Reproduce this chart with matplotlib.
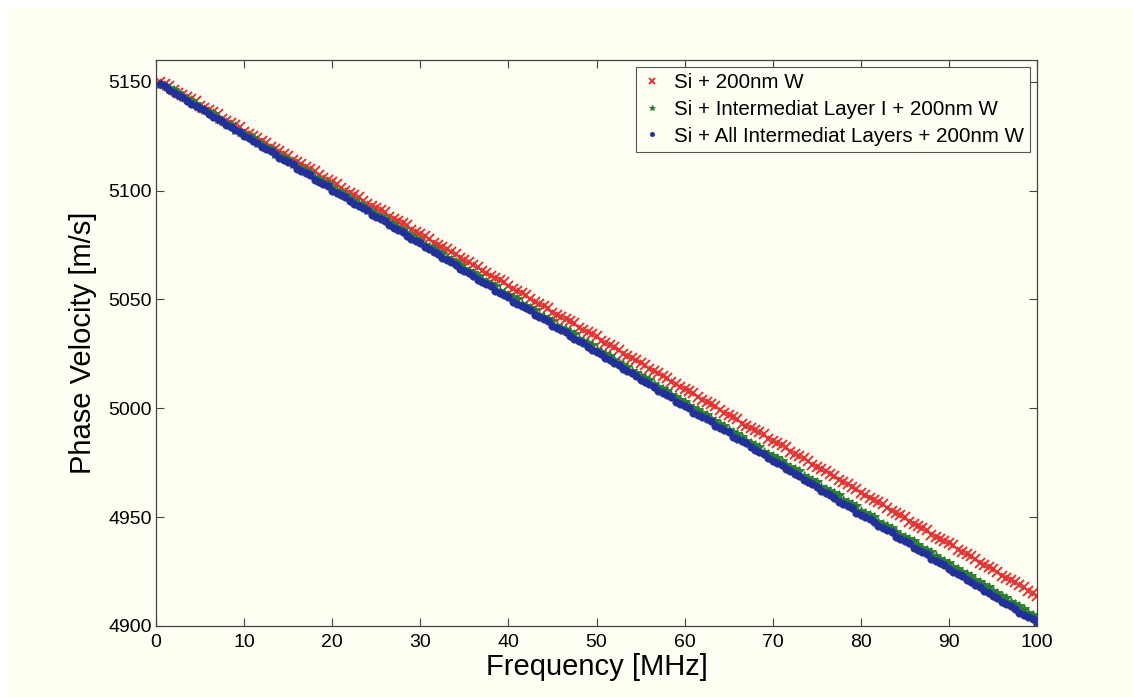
import numpy as np
import matplotlib
matplotlib.use('Agg')
import matplotlib.pyplot as plt
from matplotlib.patches import Rectangle

plt.rcParams['font.family'] = ['Liberation Sans', 'DejaVu Sans']

# frequency grid, 0.5 MHz steps
freq = np.arange(1, 201) * 0.5

# phase velocity [m/s]
v_w = [5150, 5149, 5148, 5146, 5145, 5144, 5143, 5142, 5141, 5139,
       5138, 5137, 5136, 5135, 5133, 5132, 5131, 5130, 5129, 5127,
       5126, 5125, 5124, 5123, 5122, 5120, 5119, 5118, 5117, 5116,
       5114, 5113, 5112, 5111, 5110, 5109, 5107, 5106, 5105, 5104,
       5103, 5101, 5100, 5099, 5098, 5097, 5095, 5094, 5093, 5092,
       5091, 5090, 5088, 5087, 5086, 5085, 5084, 5082, 5081, 5080,
       5079, 5078, 5076, 5075, 5074, 5073, 5072, 5071, 5069, 5068,
       5067, 5066, 5065, 5063, 5062, 5061, 5060, 5059, 5058, 5056,
       5055, 5054, 5053, 5052, 5050, 5049, 5048, 5047, 5046, 5044,
       5043, 5042, 5041, 5040, 5039, 5037, 5036, 5035, 5034, 5033,
       5031, 5030, 5029, 5028, 5027, 5025, 5024, 5023, 5022, 5021,
       5020, 5018, 5017, 5016, 5015, 5014, 5012, 5011, 5010, 5009,
       5008, 5007, 5005, 5004, 5003, 5002, 5001, 4999, 4998, 4997,
       4996, 4995, 4993, 4992, 4991, 4990, 4989, 4988, 4986, 4985,
       4984, 4983, 4982, 4980, 4979, 4978, 4977, 4976, 4974, 4973,
       4972, 4971, 4970, 4969, 4967, 4966, 4965, 4964, 4963, 4961,
       4960, 4959, 4958, 4957, 4956, 4954, 4953, 4952, 4951, 4950,
       4948, 4947, 4946, 4945, 4944, 4942, 4941, 4940, 4939, 4938,
       4937, 4935, 4934, 4933, 4932, 4931, 4929, 4928, 4927, 4926,
       4925, 4923, 4922, 4921, 4920, 4919, 4918, 4916, 4915, 4914]

v_layer1 = [5149, 5148, 5147, 5146, 5145, 5143, 5142, 5141, 5140, 5138,
            5137, 5136, 5135, 5133, 5132, 5131, 5130, 5128, 5127, 5126,
            5125, 5124, 5122, 5121, 5120, 5119, 5117, 5116, 5115, 5114,
            5112, 5111, 5110, 5109, 5108, 5106, 5105, 5104, 5103, 5101,
            5100, 5099, 5098, 5096, 5095, 5094, 5093, 5091, 5090, 5089,
            5088, 5087, 5085, 5084, 5083, 5082, 5080, 5079, 5078, 5077,
            5075, 5074, 5073, 5072, 5071, 5069, 5068, 5067, 5066, 5064,
            5063, 5062, 5061, 5059, 5058, 5057, 5056, 5054, 5053, 5052,
            5051, 5050, 5048, 5047, 5046, 5045, 5043, 5042, 5041, 5040,
            5038, 5037, 5036, 5035, 5034, 5032, 5031, 5030, 5029, 5027,
            5026, 5025, 5024, 5022, 5021, 5020, 5019, 5017, 5016, 5015,
            5014, 5013, 5011, 5010, 5009, 5008, 5006, 5005, 5004, 5003,
            5001, 5000, 4999, 4998, 4997, 4995, 4994, 4993, 4992, 4990,
            4989, 4988, 4987, 4985, 4984, 4983, 4982, 4980, 4979, 4978,
            4977, 4976, 4974, 4973, 4972, 4971, 4969, 4968, 4967, 4966,
            4964, 4963, 4962, 4961, 4960, 4958, 4957, 4956, 4955, 4953,
            4952, 4951, 4950, 4948, 4947, 4946, 4945, 4943, 4942, 4941,
            4940, 4939, 4937, 4936, 4935, 4934, 4932, 4931, 4930, 4929,
            4927, 4926, 4925, 4924, 4923, 4921, 4920, 4919, 4918, 4916,
            4915, 4914, 4913, 4911, 4910, 4909, 4908, 4906, 4905, 4904]

v_all = [5149, 5148, 5146, 5145, 5144, 5143, 5141, 5140, 5139, 5138,
         5137, 5135, 5134, 5133, 5132, 5130, 5129, 5128, 5127, 5125,
         5124, 5123, 5122, 5120, 5119, 5118, 5117, 5115, 5114, 5113,
         5112, 5110, 5109, 5108, 5107, 5105, 5104, 5103, 5102, 5100,
         5099, 5098, 5097, 5095, 5094, 5093, 5092, 5091, 5089, 5088,
         5087, 5086, 5084, 5083, 5082, 5081, 5079, 5078, 5077, 5076,
         5074, 5073, 5072, 5071, 5069, 5068, 5067, 5066, 5064, 5063,
         5062, 5061, 5059, 5058, 5057, 5056, 5054, 5053, 5052, 5051,
         5049, 5048, 5047, 5046, 5045, 5043, 5042, 5041, 5040, 5038,
         5037, 5036, 5035, 5033, 5032, 5031, 5030, 5028, 5027, 5026,
         5025, 5023, 5022, 5021, 5020, 5018, 5017, 5016, 5015, 5013,
         5012, 5011, 5010, 5008, 5007, 5006, 5005, 5003, 5002, 5001,
         5000, 4998, 4997, 4996, 4995, 4994, 4992, 4991, 4990, 4989,
         4987, 4986, 4985, 4984, 4982, 4981, 4980, 4979, 4977, 4976,
         4975, 4974, 4972, 4971, 4970, 4969, 4967, 4966, 4965, 4964,
         4962, 4961, 4960, 4959, 4957, 4956, 4955, 4954, 4952, 4951,
         4950, 4949, 4948, 4946, 4945, 4944, 4943, 4941, 4940, 4939,
         4938, 4936, 4935, 4934, 4933, 4931, 4930, 4929, 4928, 4926,
         4925, 4924, 4923, 4921, 4920, 4919, 4918, 4916, 4915, 4914,
         4913, 4911, 4910, 4909, 4908, 4906, 4905, 4904, 4903, 4901]

labels = ['Si + 200nm W',
          'Si + Intermediat Layer I + 200nm W',
          'Si + All Intermediat Layers + 200nm W']

cream = '#FFFEF2'

fig = plt.figure(figsize=(11.33, 6.97), dpi=100, facecolor='white')
fig.patches.append(Rectangle((10/1133, 0), 1, 1 - 7/697, transform=fig.transFigure,
                             facecolor=cream, edgecolor='none', zorder=-10))
ax = fig.add_axes([156/1133, 71/697, 881/1133, 566/697])
ax.set_facecolor(cream)

ax.plot(freq, v_w, 'x', color='#E03434', markersize=6.5, mew=1.4, label=labels[0])
ax.plot(freq, v_layer1, '*', color='#2A7D30', markersize=7, mew=0.6, label=labels[1])
ax.plot(freq, v_all, 'o', color='#22309A', markersize=5.5, mew=0.3, label=labels[2])

ax.set_xlim(0, 100)
ax.set_ylim(4900, 5160)
ax.set_xticks(np.arange(0, 101, 10))
ax.set_yticks(np.arange(4900, 5151, 50))
ax.tick_params(direction='in', top=True, right=True, length=6, width=0.8,
               colors='#444444', labelcolor='black', labelsize=14)
ax.tick_params(axis='x', pad=6)
ax.tick_params(axis='y', pad=3)
for s in ax.spines.values():
    s.set_color('#444444')
    s.set_linewidth(0.9)

ax.set_xlabel('Frequency [MHz]', fontsize=21, labelpad=1)
ax.set_ylabel('Phase Velocity [m/s]', fontsize=21, labelpad=8)

leg = ax.legend(loc='upper right', fontsize=14.8, markerscale=0.6, labelspacing=0.37,
                handlelength=1.0, handletextpad=0.55, borderpad=0.3,
                borderaxespad=0.35, fancybox=False, framealpha=1)
leg.get_frame().set_facecolor(cream)
leg.get_frame().set_edgecolor('#555555')
leg.get_frame().set_linewidth(0.8)

plt.savefig('out.png', dpi=100, facecolor=fig.get_facecolor())
